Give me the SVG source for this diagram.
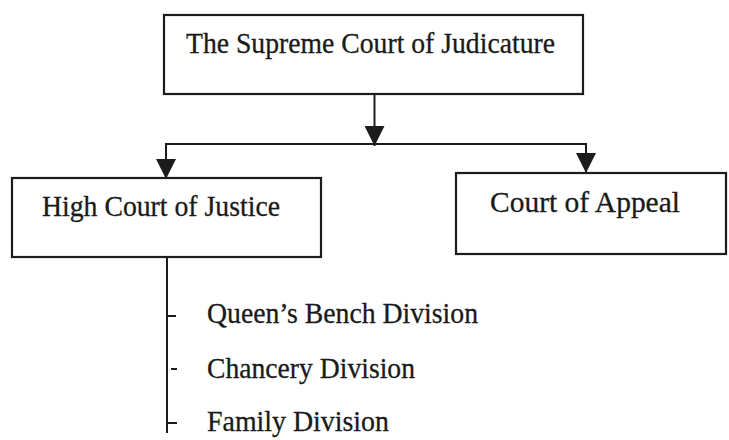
<svg xmlns="http://www.w3.org/2000/svg" width="729" height="440" viewBox="0 0 729 440">
  <style>
    .box { fill: none; stroke: #1c1c1c; stroke-width: 2.2; }
    .lbl { font-family: "Liberation Serif", "Times New Roman", serif; font-size: 30px; fill: #1a1a1a; stroke: #1a1a1a; stroke-width: 0.3; }
    .conn { fill: none; stroke: #1c1c1c; stroke-width: 2; }
  </style>
  <defs>
    <marker id="arrow" markerUnits="userSpaceOnUse" markerWidth="20" markerHeight="20" viewBox="0 0 20 20" refX="20" refY="10" orient="auto">
      <path d="M0,0 L20,10 L0,20 z" fill="#1c1c1c"/>
    </marker>
  </defs>
  <rect width="729" height="440" fill="#ffffff"/>
  <g id="connectors">
    <line class="conn" x1="374.5" y1="94" x2="374.5" y2="146" marker-end="url(#arrow)"/>
    <path class="conn" d="M375,144 H166 V179" marker-end="url(#arrow)"/>
    <path class="conn" d="M375,144 H586 V173" marker-end="url(#arrow)"/>
    <path class="conn" d="M167,257 V433"/>
    <path class="conn" d="M167,316 H176 M171,369 H177 M168,423 H177"/>
  </g>
  <g id="supreme-court">
    <rect class="box" x="164" y="15" width="419" height="79"/>
    <text class="lbl" x="186" y="53" textLength="369" lengthAdjust="spacingAndGlyphs">The Supreme Court of Judicature</text>
  </g>
  <g id="high-court">
    <rect class="box" x="12" y="178" width="309" height="79"/>
    <text class="lbl" x="42" y="216" textLength="238" lengthAdjust="spacingAndGlyphs">High Court of Justice</text>
  </g>
  <g id="court-of-appeal">
    <rect class="box" x="456" y="173" width="270" height="81"/>
    <text class="lbl" x="490" y="212" textLength="190" lengthAdjust="spacingAndGlyphs">Court of Appeal</text>
  </g>
  <g id="divisions">
    <text class="lbl" x="207" y="323" textLength="271" lengthAdjust="spacingAndGlyphs">Queen’s Bench Division</text>
    <text class="lbl" x="207" y="378" textLength="208" lengthAdjust="spacingAndGlyphs">Chancery Division</text>
    <text class="lbl" x="207" y="431" textLength="182" lengthAdjust="spacingAndGlyphs">Family Division</text>
  </g>
</svg>
